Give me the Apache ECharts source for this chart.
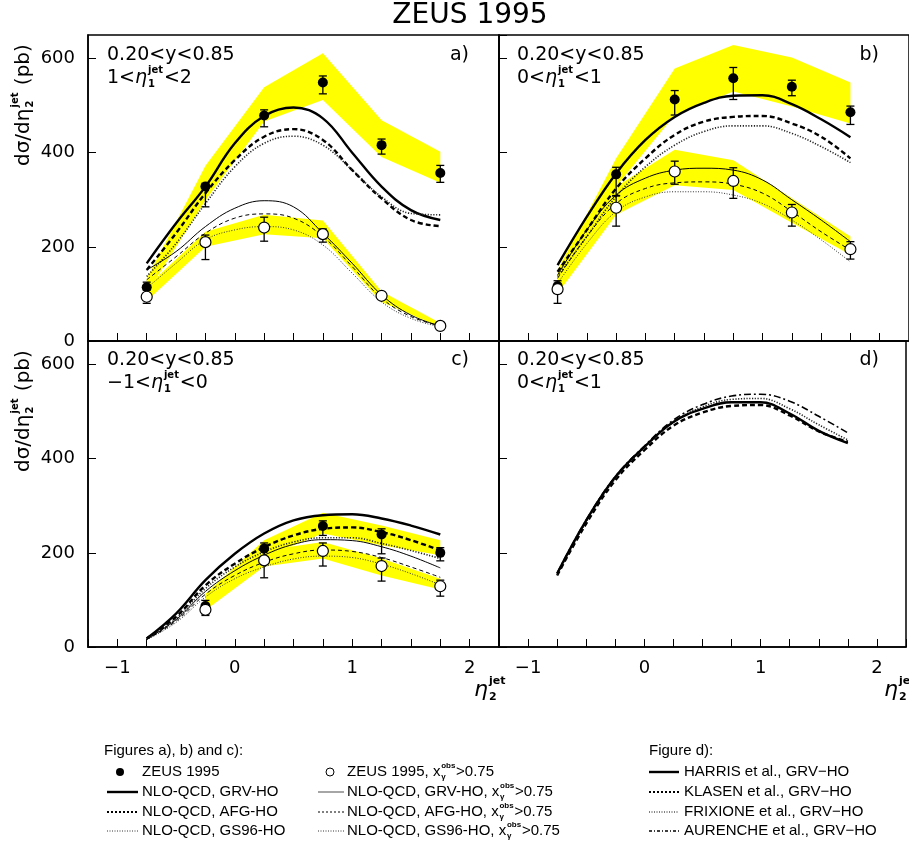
<!DOCTYPE html>
<html>
<head>
<meta charset="utf-8">
<script src="https://cdn.jsdelivr.net/npm/echarts@6/dist/echarts.min.js"></script>
<style>
  html, body { margin: 0; padding: 0; background: #fff; }
  #chart { width: 909px; height: 851px; }
</style>
</head>
<body>
<div id="chart"></div>
<script>
// eta2 positions of the data points and of the theory curves
var etaPts = [-0.75, -0.25, 0.25, 0.75, 1.25, 1.75];
var etaPtsC = [-0.25, 0.25, 0.75, 1.25, 1.75];
var etaCurve = [-0.75, -0.5, -0.25, 0, 0.25, 0.5, 0.75, 1.0, 1.25, 1.5, 1.75];
var xTicks = [-1, 0, 1, 2];
var yTicks = [0, 200, 400, 600];

// panel a) 1<eta1<2
var aData = [114, 328, 479, 549, 416, 357];
var aDataLo = [101, 285, 455, 525, 397, 337];
var aDataHi = [125, 335, 491, 563, 429, 373];
var aOpen = [94, 210, 241, 227, 96, 32];
var aOpenLo = [80, 173, 212, 210, 90, 28];
var aOpenHi = [108, 225, 263, 238, 102, 36];
var aBandLo = [101, 299, 466, 512, 391, 336];
var aBandHi = [133, 372, 539, 611, 469, 402];
var aBandOLo = [85, 200, 227, 218, 83, 29];
var aBandOHi = [115, 232, 268, 256, 105, 38];
var aGrv = [165, 250, 328, 420, 478, 496, 473, 400, 328, 278, 257];
var aAfg = [151, 229, 314, 384, 434, 450, 427, 363, 303, 257, 244];
var aGs96 = [137, 207, 292, 370, 420, 435, 416, 363, 306, 271, 268];
var aGrvX = [151, 190, 243, 282, 298, 285, 229, 165, 98, 55, 32];
var aAfgX = [130, 179, 229, 261, 270, 261, 222, 158, 91, 52, 32];
var aGs96X = [112, 165, 215, 236, 243, 236, 204, 144, 83, 48, 30];

// panel b) 0<eta1<1
var bData = [117, 354, 513, 558, 540, 486];
var bDataLo = [101, 308, 480, 513, 521, 460];
var bDataHi = [128, 369, 532, 581, 554, 499];
var bOpen = [110, 283, 360, 340, 273, 195];
var bOpenLo = [80, 244, 333, 303, 244, 174];
var bOpenHi = [120, 309, 382, 368, 290, 211];
var bBandLo = [101, 328, 480, 530, 498, 462];
var bBandHi = [151, 388, 579, 629, 602, 549];
var bBandOLo = [101, 268, 331, 321, 251, 183];
var bBandOHi = [122, 328, 406, 384, 303, 222];
var bGrv = [161, 264, 356, 427, 476, 506, 521, 522, 503, 471, 433];
var bAfg = [147, 236, 324, 388, 438, 466, 476, 478, 462, 434, 388];
var bGs96 = [137, 222, 307, 370, 416, 445, 457, 457, 441, 413, 379];
var bGrvX = [140, 236, 310, 346, 363, 367, 363, 342, 300, 257, 211];
var bAfgX = [133, 222, 292, 324, 336, 338, 333, 314, 275, 232, 193];
var bGs96X = [122, 207, 275, 306, 317, 317, 310, 292, 257, 215, 168];

// panel c) -1<eta1<0
var cData = [87, 209, 257, 239, 200];
var cDataLo = [67, 191, 237, 198, 183];
var cDataHi = [99, 221, 268, 251, 211];
var cOpen = [79, 184, 204, 172, 129];
var cOpenLo = [70, 147, 172, 140, 108];
var cOpenHi = [88, 209, 221, 189, 142];
var cBandLo = [78, 191, 241, 216, 195];
var cBandHi = [113, 227, 285, 258, 227];
var cBandOLo = [78, 171, 188, 152, 122];
var cBandOHi = [110, 205, 223, 188, 145];
var cGrv = [18, 71, 142, 198, 241, 269, 280, 282, 273, 258, 239];
var cAfg = [18, 64, 131, 177, 212, 237, 251, 254, 244, 227, 205];
var cGs96 = [17, 60, 124, 170, 202, 223, 232, 232, 220, 205, 188];
var cGrvX = [17, 58, 118, 162, 195, 218, 228, 226, 213, 193, 168];
var cAfgX = [16, 55, 112, 152, 180, 198, 206, 203, 190, 170, 148];
var cGs96X = [15, 52, 106, 145, 170, 187, 193, 190, 176, 156, 132];

// panel d) 0<eta1<1, different calculations
var dHarris = [156, 269, 361, 425, 478, 506, 520, 520, 496, 459, 433];
var dKlasen = [152, 262, 354, 418, 470, 498, 512, 514, 492, 458, 436];
var dFrixione = [154, 266, 358, 424, 478, 510, 526, 528, 506, 472, 440];
var dAurenche = [157, 270, 362, 427, 482, 515, 533, 537, 522, 490, 455];

var F = '"DejaVu Sans", sans-serif';
var LF = '"Liberation Sans", Arial, sans-serif';

var chart = echarts.init(document.getElementById('chart'));

// text measuring for the little math labels
var mctx = document.createElement('canvas').getContext('2d');
function measure(s, font) { mctx.font = font; return mctx.measureText(s).width; }

function txt(x, y, s, font, align) {
    align = align || 'left';
    return { type: 'text', x: x, y: y, silent: true,
        style: { text: s, font: font, fill: '#000', align: align, verticalAlign: 'middle',
                 textAlign: align, textVerticalAlign: 'middle' } };
}

// parts: strings or {m: main, sub, sup, it}
function mathRun(parts, size, fam, x0, y0) {
    var out = [], x = x0;
    parts.forEach(function (p) {
        if (typeof p === 'string') {
            var f = size + 'px ' + fam;
            out.push(txt(x, y0, p, f));
            x += measure(p, f);
        } else {
            var fm = (p.it ? 'italic ' : '') + size + 'px ' + fam;
            out.push(txt(x, y0, p.m, fm));
            x += measure(p.m, fm) + size * 0.05;
            var s = Math.round(size * 0.5), fs = 'bold ' + s + 'px ' + fam, w = 0;
            if (p.sup) { out.push(txt(x, y0 - size * 0.42, p.sup, fs)); w = Math.max(w, measure(p.sup, fs)); }
            if (p.sub) { out.push(txt(x, y0 + size * 0.32, p.sub, fs)); w = Math.max(w, measure(p.sub, fs)); }
            x += w + size * 0.05;
        }
    });
    return out;
}

var grids = [
    { left: 88, top: 35, width: 411, height: 306 },
    { left: 499, top: 35, width: 411, height: 306 },
    { left: 88, top: 341, width: 411, height: 306 },
    { left: 499, top: 341, width: 411, height: 306 }
];
grids.forEach(function (g) { g.show = true; g.borderColor = '#000'; g.borderWidth = 1.5; });

function xAx(i, labels) {
    return {
        type: 'value', gridIndex: i, min: -1.25, max: 2.25, interval: 0.25,
        axisLine: { show: true, onZero: false, lineStyle: { color: '#000', width: 1.5 } },
        axisTick: { show: true, inside: true, length: 8, lineStyle: { color: '#000', width: 1 } },
        axisLabel: {
            show: labels, margin: 12, fontSize: 18, fontFamily: F, color: '#000',
            formatter: function (v) {
                if (xTicks.indexOf(v) < 0) return '';
                return v < 0 ? '\u2212' + (-v) : String(v);
            }
        },
        splitLine: { show: false }
    };
}
function yAx(i, labels) {
    return {
        type: 'value', gridIndex: i, min: 0, max: 650, interval: 200,
        axisLine: { show: true, onZero: false, lineStyle: { color: '#000', width: 1.5 } },
        axisTick: { show: true, inside: true, length: 8, lineStyle: { color: '#000', width: 1 } },
        axisLabel: {
            show: labels, margin: 13, fontSize: 18, fontFamily: F, color: '#000',
            showMaxLabel: false,
            formatter: function (v) { return yTicks.indexOf(v) < 0 ? '' : String(v); }
        },
        splitLine: { show: false }
    };
}

var thickSolid = { color: '#000', width: 2.4, type: 'solid' };
var thickDash = { color: '#000', width: 2.4, type: [5, 3] };
var thickDot = { color: '#222', width: 1.6, type: [1.2, 1.6] };
var thinSolid = { color: '#000', width: 1, type: 'solid' };
var thinDash = { color: '#000', width: 1, type: [4, 3] };
var thinDot = { color: '#333', width: 1, type: [1, 1.6] };
var dashDot = { color: '#000', width: 1.6, type: [7, 3, 2, 3] };

function curve(g, ys, ls) {
    return {
        type: 'line', xAxisIndex: g, yAxisIndex: g, z: 3, silent: true,
        data: etaCurve.map(function (x, i) { return [x, ys[i]]; }),
        smooth: 0.4, symbol: 'none', lineStyle: ls
    };
}

function band(g, xs, lo, hi) {
    return {
        type: 'custom', xAxisIndex: g, yAxisIndex: g, z: 1, silent: true,
        data: xs.map(function (x, i) { return [x, lo[i], hi[i]]; }),
        encode: { x: 0, y: [1, 2] },
        renderItem: function (params, api) {
            if (params.dataIndex !== 0) return;
            var pts = [], i;
            for (i = 0; i < xs.length; i++) pts.push(api.coord([xs[i], hi[i]]));
            for (i = xs.length - 1; i >= 0; i--) pts.push(api.coord([xs[i], lo[i]]));
            return { type: 'polygon', shape: { points: pts }, style: { fill: '#ffff00' } };
        }
    };
}

function errBars(g, xs, lo, hi) {
    return {
        type: 'custom', xAxisIndex: g, yAxisIndex: g, z: 4, silent: true,
        data: xs.map(function (x, i) { return [x, lo[i], hi[i]]; }),
        encode: { x: 0, y: [1, 2] },
        renderItem: function (params, api) {
            var x = api.value(0);
            var a = api.coord([x, api.value(1)]);
            var b = api.coord([x, api.value(2)]);
            var st = { stroke: '#000', lineWidth: 1.3 };
            return { type: 'group', children: [
                { type: 'line', shape: { x1: a[0], y1: a[1], x2: b[0], y2: b[1] }, style: st },
                { type: 'line', shape: { x1: a[0] - 4, y1: a[1], x2: a[0] + 4, y2: a[1] }, style: st },
                { type: 'line', shape: { x1: b[0] - 4, y1: b[1], x2: b[0] + 4, y2: b[1] }, style: st }
            ] };
        }
    };
}

function points(g, xs, ys, open) {
    return {
        type: 'scatter', xAxisIndex: g, yAxisIndex: g, z: 5, silent: true,
        symbol: 'circle', symbolSize: open ? 11 : 10,
        data: xs.map(function (x, i) { return [x, ys[i]]; }),
        itemStyle: open ? { color: '#fff', borderColor: '#000', borderWidth: 1.2, opacity: 1 }
                        : { color: '#000', borderColor: '#000', borderWidth: 0, opacity: 1 }
    };
}

function panel(g, xs, d) {
    return [
        band(g, xs, d.bandLo, d.bandHi),
        band(g, xs, d.bandOLo, d.bandOHi),
        curve(g, d.grv, thickSolid), curve(g, d.afg, thickDash), curve(g, d.gs, thickDot),
        curve(g, d.grvX, thinSolid), curve(g, d.afgX, thinDash), curve(g, d.gsX, thinDot),
        errBars(g, xs, d.lo, d.hi), errBars(g, xs, d.oLo, d.oHi),
        points(g, xs, d.data, false), points(g, xs, d.open, true)
    ];
}

var series = [].concat(
    panel(0, etaPts, { data: aData, lo: aDataLo, hi: aDataHi, open: aOpen, oLo: aOpenLo, oHi: aOpenHi,
        bandLo: aBandLo, bandHi: aBandHi, bandOLo: aBandOLo, bandOHi: aBandOHi,
        grv: aGrv, afg: aAfg, gs: aGs96, grvX: aGrvX, afgX: aAfgX, gsX: aGs96X }),
    panel(1, etaPts, { data: bData, lo: bDataLo, hi: bDataHi, open: bOpen, oLo: bOpenLo, oHi: bOpenHi,
        bandLo: bBandLo, bandHi: bBandHi, bandOLo: bBandOLo, bandOHi: bBandOHi,
        grv: bGrv, afg: bAfg, gs: bGs96, grvX: bGrvX, afgX: bAfgX, gsX: bGs96X }),
    panel(2, etaPtsC, { data: cData, lo: cDataLo, hi: cDataHi, open: cOpen, oLo: cOpenLo, oHi: cOpenHi,
        bandLo: cBandLo, bandHi: cBandHi, bandOLo: cBandOLo, bandOHi: cBandOHi,
        grv: cGrv, afg: cAfg, gs: cGs96, grvX: cGrvX, afgX: cAfgX, gsX: cGs96X }),
    [curve(3, dKlasen, thickDash), curve(3, dFrixione, thickDot),
     curve(3, dAurenche, dashDot), curve(3, dHarris, thickSolid)]
);

// ---- text: title, panel labels, axis titles, legend ----
var eta1 = { m: '\u03b7', sub: '1', sup: 'jet', it: true };
var els = [];
els.push(txt(470, 16, 'ZEUS 1995', '28px ' + F, 'center'));

var pl = [
    { x: 107, y: 55, r: 469, lab: 'a)', l2: ['1<', eta1, '<2'] },
    { x: 517, y: 55, r: 879, lab: 'b)', l2: ['0<', eta1, '<1'] },
    { x: 107, y: 360, r: 469, lab: 'c)', l2: ['\u22121<', eta1, '<0'] },
    { x: 517, y: 360, r: 879, lab: 'd)', l2: ['0<', eta1, '<1'] }
];
pl.forEach(function (p) {
    els.push(txt(p.x, p.y, '0.20<y<0.85', '19px ' + F));
    els.push.apply(els, mathRun(p.l2, 19, F, p.x, p.y + 23));
    els.push(txt(p.r, p.y, p.lab, '19px ' + F, 'right'));
});

// rotated y titles
[166, 472].forEach(function (y0) {
    els.push({ type: 'group', x: 24, y: y0, rotation: Math.PI / 2,
        children: mathRun(['d\u03c3/d', { m: '\u03b7', sub: '2', sup: 'jet' }, ' (pb)'], 20, F, 0, 0) });
});
// x titles
[474, 884].forEach(function (x0) {
    els.push.apply(els, mathRun([{ m: '\u03b7', sub: '2', sup: 'jet', it: true }], 22, F, x0, 690));
});

// legend
var LS = 15, LFont = LS + 'px ' + LF;
var xg = { m: 'x', sub: '\u03b3', sup: 'obs' };
var rows = [772, 792, 812, 831];
function lline(x1, x2, y, lw, dash, col) {
    return { type: 'line', silent: true, shape: { x1: x1, y1: y, x2: x2, y2: y },
        style: { stroke: col || '#000', lineWidth: lw, lineDash: dash || null } };
}
els.push(txt(104, 751, 'Figures a), b) and c):', LFont));
els.push(txt(649, 751, 'Figure d):', LFont));
els.push({ type: 'circle', silent: true, shape: { cx: 120, cy: rows[0], r: 4 }, style: { fill: '#000' } });
els.push(txt(142, rows[0], 'ZEUS 1995', LFont));
els.push({ type: 'circle', silent: true, shape: { cx: 330, cy: rows[0], r: 4 }, style: { fill: '#fff', stroke: '#000', lineWidth: 1 } });
els.push.apply(els, mathRun(['ZEUS 1995, ', xg, '>0.75'], LS, LF, 347, rows[0]));

var col1 = [['NLO-QCD, GRV-HO', 2.4, null, '#000'], ['NLO-QCD, AFG-HO', 2, [2, 2], '#000'], ['NLO-QCD, GS96-HO', 1, [1, 1.5], '#333']];
var col2 = [['NLO-QCD, GRV-HO, ', 1.5, null, '#888'], ['NLO-QCD, AFG-HO, ', 1, [2, 2], '#000'], ['NLO-QCD, GS96-HO, ', 1, [1, 1.5], '#333']];
col1.forEach(function (c, i) {
    els.push(lline(107, 138, rows[i + 1], c[1], c[2], c[3]));
    els.push(txt(142, rows[i + 1], c[0], LFont));
});
col2.forEach(function (c, i) {
    els.push(lline(318, 344, rows[i + 1], c[1], c[2], c[3]));
    els.push.apply(els, mathRun([c[0], xg, '>0.75'], LS, LF, 347, rows[i + 1]));
});
var col3 = [['HARRIS et al., GRV\u2212HO', 2.4, null], ['KLASEN et al., GRV\u2212HO', 2, [2, 2]],
            ['FRIXIONE et al., GRV\u2212HO', 1, [1, 1.5]], ['AURENCHE et al., GRV\u2212HO', 1.5, [3, 2, 1, 2]]];
col3.forEach(function (c, i) {
    els.push(lline(649, 679, rows[i], c[1], c[2], '#000'));
    els.push(txt(684, rows[i], c[0], LFont));
});

chart.setOption({
    animation: false,
    backgroundColor: '#fff',
    grid: grids,
    xAxis: [xAx(0, false), xAx(1, false), xAx(2, true), xAx(3, true)],
    yAxis: [yAx(0, true), yAx(1, false), yAx(2, true), yAx(3, false)],
    series: series,
    graphic: { elements: els }
});
</script>
</body>
</html>
